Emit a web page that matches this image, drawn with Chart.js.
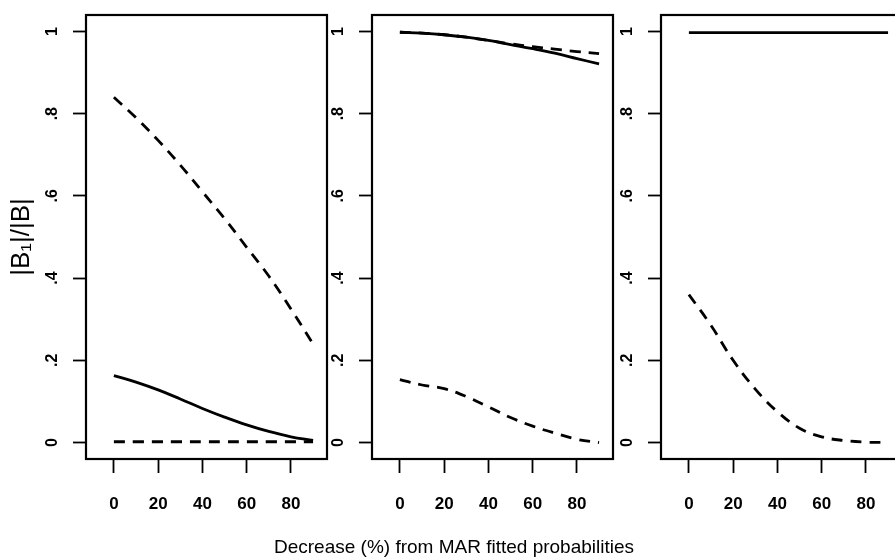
<!DOCTYPE html>
<html>
<head>
<meta charset="utf-8">
<script src="https://cdn.jsdelivr.net/npm/chart.js@4/dist/chart.umd.min.js"></script>
<style>
  body { margin: 0; background: #fff; }
  .wrap { position: relative; width: 895px; height: 557px; overflow: hidden; background: #fff; }
  .wrap canvas { position: absolute; left: 0; top: 0; }
</style>
</head>
<body>
<div class="wrap">
  <canvas id="panel1" width="940" height="557"></canvas>
  <canvas id="panel2" width="940" height="557"></canvas>
  <canvas id="panel3" width="940" height="557"></canvas>
</div>
<script>
// decrease (%) from MAR fitted probabilities
const decrease = [0, 10, 20, 30, 40, 50, 60, 70, 80, 90];

// left panel
const p1Dashed = [0.84, 0.79, 0.735, 0.675, 0.61, 0.545, 0.475, 0.405, 0.325, 0.24];
const p1Solid = [0.163, 0.147, 0.128, 0.106, 0.083, 0.062, 0.043, 0.027, 0.014, 0.005];
const p1DashedLow = [0.002, 0.002, 0.002, 0.002, 0.002, 0.002, 0.002, 0.002, 0.002, 0.002];

// middle panel
const p2Solid = [0.998, 0.996, 0.992, 0.986, 0.978, 0.968, 0.958, 0.947, 0.934, 0.921];
const p2Dashed = [0.998, 0.996, 0.992, 0.986, 0.978, 0.97, 0.963, 0.957, 0.951, 0.946];
const p2DashedLow = [0.153, 0.14, 0.131, 0.112, 0.087, 0.061, 0.04, 0.023, 0.008, 0.0];

// right panel
const p3Solid = [0.997, 0.997, 0.997, 0.997, 0.997, 0.997, 0.997, 0.997, 0.997, 0.997];
const p3Dashed = [0.36, 0.285, 0.2, 0.13, 0.075, 0.035, 0.014, 0.005, 0.001, 0.0];

const xTicks = [0, 20, 40, 60, 80];
const yTicks = [0, 0.2, 0.4, 0.6, 0.8, 1];
const yTickLabels = ["0", ".2", ".4", ".6", ".8", "1"];

const yTitle = "|B\u2081|/|B|";
const xTitle = "Decrease (%) from MAR fitted probabilities";

const CANVAS_W = 940;
const CANVAS_H = 557;
const Y_AXIS_W = 40;
const X_AXIS_H = 60;

function toPoints(ys) {
    return decrease.map((x, i) => ({ x: x, y: ys[i] }));
}

function lineSet(ys, dashed) {
    return {
        data: toPoints(ys),
        borderColor: "#000",
        borderWidth: 2.8,
        borderDash: dashed ? [11, 8] : [],
        pointRadius: 0,
        tension: 0.4,
        fill: false
    };
}

// box, rotated y tick labels and the shared titles (R style)
const rFrame = {
    id: "rFrame",
    afterDraw(chart, args, opts) {
        const ctx = chart.ctx;
        const a = chart.chartArea;
        const yScale = chart.scales.y;

        ctx.save();
        ctx.strokeStyle = "#000";
        ctx.lineWidth = 2.2;
        ctx.strokeRect(a.left, a.top, a.right - a.left, a.bottom - a.top);

        ctx.fillStyle = "#000";
        ctx.font = "bold 16px 'Liberation Sans', Arial, sans-serif";
        ctx.textAlign = "center";
        ctx.textBaseline = "middle";
        yTicks.forEach((v, i) => {
            const py = yScale.getPixelForValue(v);
            ctx.save();
            ctx.translate(a.left - 33, py);
            ctx.rotate(-Math.PI / 2);
            ctx.fillText(yTickLabels[i], 0, 0);
            ctx.restore();
        });

        if (opts.titles) {
            ctx.font = "26px 'Liberation Sans', Arial, sans-serif";
            ctx.save();
            ctx.translate(22, (a.top + a.bottom) / 2);
            ctx.rotate(-Math.PI / 2);
            ctx.fillText(yTitle, 0, 0);
            ctx.restore();

            ctx.font = "19px 'Liberation Sans', Arial, sans-serif";
            ctx.textBaseline = "alphabetic";
            ctx.fillText(xTitle, 454, 553);
        }
        ctx.restore();
    }
};

function makePanel(id, boxLeft, boxRight, datasets, titles) {
    const boxTop = 15;
    const boxBottom = 459;

    return new Chart(document.getElementById(id), {
        type: "line",
        data: { datasets: datasets },
        options: {
            responsive: false,
            animation: false,
            devicePixelRatio: 1,
            layout: {
                padding: {
                    left: boxLeft - Y_AXIS_W,
                    right: CANVAS_W - boxRight,
                    top: boxTop,
                    bottom: CANVAS_H - boxBottom - X_AXIS_H
                }
            },
            plugins: {
                legend: { display: false },
                tooltip: { enabled: false },
                rFrame: { titles: titles }
            },
            scales: {
                x: {
                    type: "linear",
                    min: -12.6,
                    max: 96.3,
                    afterBuildTicks: (scale) => {
                        scale.ticks = xTicks.map((v) => ({ value: v }));
                    },
                    afterFit: (scale) => {
                        scale.height = X_AXIS_H;
                    },
                    border: { display: false },
                    grid: {
                        drawOnChartArea: false,
                        drawTicks: true,
                        tickLength: 14,
                        tickWidth: 1.8,
                        tickColor: "#000"
                    },
                    ticks: {
                        color: "#000",
                        padding: 21,
                        maxRotation: 0,
                        font: { family: "'Liberation Sans Narrow', 'Liberation Sans', Arial, sans-serif", size: 17, weight: "bold" }
                    }
                },
                y: {
                    type: "linear",
                    min: -0.04,
                    max: 1.04,
                    afterBuildTicks: (scale) => {
                        scale.ticks = yTicks.map((v) => ({ value: v }));
                    },
                    afterFit: (scale) => {
                        scale.width = Y_AXIS_W;
                    },
                    border: { display: false },
                    grid: {
                        drawOnChartArea: false,
                        drawTicks: true,
                        tickLength: 13,
                        tickWidth: 1.8,
                        tickColor: "#000"
                    },
                    ticks: { display: false }
                }
            }
        },
        plugins: [rFrame]
    });
}

makePanel("panel1", 86, 327, [
    lineSet(p1Dashed, true),
    lineSet(p1Solid, false),
    lineSet(p1DashedLow, true)
], true);

makePanel("panel2", 372, 613, [
    lineSet(p2Solid, false),
    lineSet(p2Dashed, true),
    lineSet(p2DashedLow, true)
], false);

makePanel("panel3", 661, 902, [
    lineSet(p3Solid, false),
    lineSet(p3Dashed, true)
], false);
</script>
</body>
</html>
